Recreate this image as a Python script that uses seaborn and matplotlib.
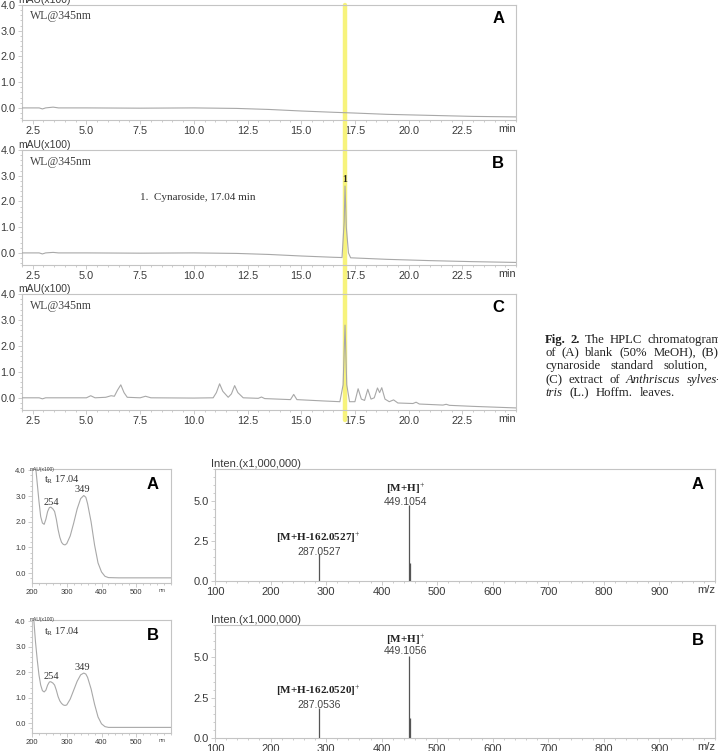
import matplotlib
matplotlib.use("Agg")
import matplotlib.pyplot as plt
import seaborn as sns
from matplotlib.ticker import MultipleLocator

# HPLC chromatograms at 345 nm (time in min, mAU x100)
blank_t = [2.0, 2.8, 2.95, 3.1, 3.45, 3.7, 5.0, 7.5, 10.0, 12.0, 13.5, 15.0, 16.5, 17.5, 19.0, 21.0, 23.0, 25.0]
blank_v = [0.0, 0.0, -0.04, 0.0, 0.03, 0.0, 0.0, -0.01, 0.0, -0.02, -0.06, -0.12, -0.17, -0.2, -0.25, -0.29, -0.33, -0.35]

std_t = [2.0, 2.8, 2.95, 3.1, 3.45, 3.7, 5.0, 7.5, 10.0, 12.0, 13.5, 15.0, 16.5, 16.9, 17.0, 17.04,
         17.1, 17.2, 17.3, 19.0, 21.0, 23.0, 25.0]
std_v = [0.0, 0.0, -0.04, 0.0, 0.02, 0.0, 0.0, -0.01, 0.0, -0.02, -0.06, -0.12, -0.17, -0.18, 1.2, 2.6,
         1.0, 0.0, -0.19, -0.25, -0.3, -0.34, -0.37]

ext_t = [2.0, 2.8, 2.95, 3.1, 4.0, 5.0, 5.2, 5.4, 5.9, 6.15, 6.3, 6.45, 6.6, 6.75, 6.9, 7.5, 7.75, 8.0,
         10.0, 10.9, 11.05, 11.2, 11.35, 11.6, 11.75, 11.9, 12.05, 12.3, 13.0, 13.15, 13.3, 14.5, 14.65,
         14.8, 16.0, 16.8, 16.95, 17.04, 17.12, 17.25, 17.5, 17.65, 17.8, 17.95, 18.1, 18.25, 18.4, 18.55,
         18.65, 18.75, 18.9, 19.1, 19.3, 19.5, 20.2, 20.35, 20.5, 21.6, 21.75, 21.9, 23.0, 25.0]
ext_v = [0.0, 0.0, -0.04, 0.0, 0.0, 0.0, 0.08, 0.0, 0.02, 0.08, 0.06, 0.3, 0.5, 0.2, 0.02, 0.0, 0.06, 0.0,
         -0.01, 0.0, 0.2, 0.54, 0.25, 0.02, 0.15, 0.47, 0.2, 0.0, -0.02, 0.03, -0.03, -0.07, 0.13,
         -0.07, -0.12, -0.15, 0.5, 2.8, 0.5, -0.15, -0.15, 0.35, -0.05, -0.1, 0.33, -0.05, 0.0, 0.38,
         0.2, 0.39, -0.05, -0.15, -0.08, -0.2, -0.22, -0.17, -0.24, -0.28, -0.25, -0.29, -0.33, -0.39]

# UV spectra of the peak at tR 17.04 (nm, mAU x100)
uv_nm = [200, 210, 215, 220, 225, 230, 235, 240, 245, 250, 254, 260, 265, 270, 275, 280, 285, 290, 295,
         300, 310, 320, 330, 340, 349, 355, 360, 370, 380, 390, 400, 410, 420, 450, 600]
uv_a = [5.0, 4.2, 3.5, 2.8, 2.2, 1.95, 1.9, 2.1, 2.4, 2.55, 2.57, 2.5, 2.4, 2.1, 1.7, 1.4, 1.2, 1.12, 1.1,
        1.15, 1.45, 1.95, 2.5, 2.9, 3.02, 2.95, 2.7, 2.0, 1.1, 0.4, 0.05, -0.12, -0.17, -0.18, -0.18]
uv_b = [5.0, 3.2, 2.5, 1.9, 1.5, 1.28, 1.23, 1.3, 1.5, 1.62, 1.63, 1.58, 1.5, 1.3, 1.05, 0.88, 0.78, 0.72, 0.7,
        0.72, 0.95, 1.3, 1.65, 1.9, 1.97, 1.93, 1.8, 1.35, 0.75, 0.25, -0.02, -0.13, -0.16, -0.16, -0.16]

# MS spectra (m/z, intensity x1,000,000)
ms_mz = [287.05, 449.11, 450.11]
ms_a = [1.69, 4.75, 1.13]
ms_b = [1.88, 5.06, 1.25]
ms_lab_a = ["[M+H-162.0527]$^{+}$", "287.0527", "[M+H]$^{+}$", "449.1054"]
ms_lab_b = ["[M+H-162.0520]$^{+}$", "287.0536", "[M+H]$^{+}$", "449.1056"]

# caption words: (word, bold, italic); lines are justified
caption = [
    [("Fig.", 1, 0), ("2.", 1, 0), ("The", 0, 0), ("HPLC", 0, 0), ("chromatograms", 0, 0)],
    [("of", 0, 0), ("(A)", 0, 0), ("blank", 0, 0), ("(50%", 0, 0), ("MeOH),", 0, 0), ("(B)", 0, 0)],
    [("cynaroside", 0, 0), ("standard", 0, 0), ("solution,", 0, 0), ("and", 0, 0)],
    [("(C)", 0, 0), ("extract", 0, 0), ("of", 0, 0), ("Anthriscus", 0, 1), ("sylves-", 0, 1)],
    [("tris", 0, 1), ("(L.)", 0, 0), ("Hoffm.", 0, 0), ("leaves.", 0, 0)],
]
cap_last_start = [647, 702, 717, 687, 640]
cap_y = [340, 353, 366, 380, 393]

sns.set_style("ticks")
plt.rcParams["font.family"] = ["Liberation Sans", "DejaVu Sans"]
plt.rcParams["mathtext.fontset"] = "custom"
plt.rcParams["mathtext.rm"] = "Liberation Serif"
plt.rcParams["mathtext.bf"] = "Liberation Serif:bold"

W, H = 718, 751
fig = plt.figure(figsize=(W / 100, H / 100), dpi=100)
SERIF = "Liberation Serif"
SPINE = "#c4c4c4"
TXT = "#3a3a3a"
CURVE = "#a8a8a8"


def px_axes(l, t, r, b):
    return fig.add_axes([l / W, 1 - b / H, (r - l) / W, (b - t) / H])


def style(ax, fs):
    for s in ax.spines.values():
        s.set_color(SPINE)
        s.set_linewidth(0.8)
    ax.tick_params(which="both", direction="out", colors=SPINE, labelcolor=TXT, labelsize=fs, width=0.6)
    ax.tick_params(which="major", length=3, pad=1.5)
    ax.tick_params(which="minor", length=1.5)
    ax.set_xlabel("")
    ax.set_ylabel("")


# ---- HPLC chromatograms ----
hplc = [(blank_t, blank_v, "A", 5, 120), (std_t, std_v, "B", 150, 265), (ext_t, ext_v, "C", 294, 410)]
for i, (t, v, letter, top, bot) in enumerate(hplc):
    ax = px_axes(22, top, 516, bot)
    sns.lineplot(x=t, y=v, ax=ax, color=CURVE, lw=0.8, estimator=None, zorder=3)
    ax.set_xlim(2.0, 25.0)
    ax.set_ylim(-0.47, 4.0)
    ax.set_xticks([2.5, 5.0, 7.5, 10.0, 12.5, 15.0, 17.5, 20.0, 22.5])
    ax.set_xticklabels(["2.5", "5.0", "7.5", "10.0", "12.5", "15.0", "17.5", "20.0", "22.5"])
    ax.set_yticks([0, 1, 2, 3, 4])
    ax.set_yticklabels(["0.0", "1.0", "2.0", "3.0", "4.0"])
    ax.xaxis.set_minor_locator(MultipleLocator(0.5))
    ax.yaxis.set_minor_locator(MultipleLocator(0.2))
    style(ax, 7.8)
    ax.text(24.6, -0.035, "min", transform=ax.get_xaxis_transform(), ha="center", va="top",
            fontsize=7.8, color=TXT)
    ax.text(-0.008, 1.0, "mAU(x100)", transform=ax.transAxes, ha="left", va="bottom",
            fontsize=7.5, color=TXT)
    ax.text(0.016, 0.9, "WL@345nm", transform=ax.transAxes, ha="left", va="center",
            fontsize=8.5, color="#444444", family=SERIF)
    ax.text(0.964, 0.88, letter, transform=ax.transAxes, ha="center", va="center",
            fontsize=12, fontweight="bold", color="black")
    ext_below = {0: -0.27, 1: -0.26, 2: -0.09}[i]
    ax.axvline(17.06, ymin=ext_below, ymax=1.0, color="#f7f37c", lw=3.2, zorder=1, clip_on=False)
    if letter == "B":
        ax.text(10.2, 2.17, "1.  Cynaroside, 17.04 min", ha="center", va="center",
                fontsize=8, color="#333333", family=SERIF)
        ax.text(17.04, 2.85, "1", ha="center", va="center", fontsize=7,
                fontweight="bold", color="#222222", family=SERIF)

# ---- caption (justified lines, clipped by the figure edge like the source) ----
renderer = fig.canvas.get_renderer()
for words, last_x, y in zip(caption, cap_last_start, cap_y):
    objs = []
    for w, b, it in words:
        objs.append(fig.text(0, 1 - y / H, w, ha="left", va="center", fontsize=9.2, family=SERIF,
                             fontweight="bold" if b else "normal",
                             fontstyle="italic" if it else "normal", color="#222222"))
    widths = [o.get_window_extent(renderer).width for o in objs]
    gap = (last_x - 545 - sum(widths[:-1])) / (len(objs) - 1)
    x = 545
    for o, wd in zip(objs, widths):
        o.set_x(x / W)
        x += wd + gap

# ---- UV spectra ----
uv = [(uv_a, "A", 469, 583, [3.62, 2.76, 3.27]), (uv_b, "B", 620, 733, [3.58, 1.85, 2.19])]
for vals, letter, top, bot, ly in uv:
    ax = px_axes(32, top, 171, bot)
    sns.lineplot(x=uv_nm, y=vals, ax=ax, color=CURVE, lw=0.8, estimator=None)
    ax.set_xlim(200, 600)
    ax.set_ylim(-0.38, 4.05)
    ax.set_xticks([200, 300, 400, 500])
    ax.set_yticks([0, 1, 2, 3, 4])
    ax.set_yticklabels(["0.0", "1.0", "2.0", "3.0", "4.0"])
    ax.xaxis.set_minor_locator(MultipleLocator(20))
    ax.yaxis.set_minor_locator(MultipleLocator(0.2))
    style(ax, 5.5)
    ax.text(575, -0.04, "nm", transform=ax.get_xaxis_transform(), ha="center", va="top",
            fontsize=3.5, color=TXT)
    ax.text(-0.02, 1.0, "mAU(x100)", transform=ax.transAxes, ha="left", va="center",
            fontsize=3.5, color=TXT)
    ax.text(235, ly[0], "t$_\\mathregular{R}$ 17.04", ha="left", va="center", fontsize=7.5,
            color="#333333", family=SERIF)
    ax.text(255, ly[1], "254", ha="center", va="center", fontsize=7.5, color="#333333", family=SERIF)
    ax.text(345, ly[2], "349", ha="center", va="center", fontsize=7.5, color="#333333", family=SERIF)
    ax.text(0.87, 0.865, letter, transform=ax.transAxes, ha="center", va="center",
            fontsize=12, fontweight="bold", color="black")

# ---- MS spectra ----
ms = [(ms_a, ms_lab_a, "A", 469, 581, [2.69, 1.81, 5.75, 4.94]),
      (ms_b, ms_lab_b, "B", 625, 738, [2.94, 2.06, 6.1, 5.4])]
for vals, labs, letter, top, bot, ly in ms:
    ax = px_axes(215, top, 715, bot)
    sns.lineplot(x=[100, 1000], y=[0, 0], ax=ax, color="#888888", lw=0.6)
    ax.vlines(ms_mz, 0, vals, color="#555555", lw=0.9)
    ax.set_xlim(100, 1000)
    ax.set_ylim(0, 7.0)
    ax.set_xticks([100, 200, 300, 400, 500, 600, 700, 800, 900])
    ax.set_yticks([0, 2.5, 5.0])
    ax.set_yticklabels(["0.0", "2.5", "5.0"])
    ax.xaxis.set_minor_locator(MultipleLocator(20))
    ax.yaxis.set_minor_locator(MultipleLocator(0.5))
    style(ax, 8)
    ax.text(985, -0.035, "m/z", transform=ax.get_xaxis_transform(), ha="center", va="top",
            fontsize=8, color=TXT)
    ax.text(-0.008, 1.0, "Inten.(x1,000,000)", transform=ax.transAxes, ha="left", va="bottom",
            fontsize=8, color=TXT)
    ax.text(285.6, ly[0], labs[0], ha="center", va="center", fontsize=8, fontweight="bold",
            family=SERIF, color="#222222")
    ax.text(287, ly[1], labs[1], ha="center", va="center", fontsize=7.5, color="#444444")
    ax.text(442, ly[2], labs[2], ha="center", va="center", fontsize=8, fontweight="bold",
            family=SERIF, color="#222222")
    ax.text(443, ly[3], labs[3], ha="center", va="center", fontsize=7.5, color="#444444")
    ax.text(0.966, 0.86, letter, transform=ax.transAxes, ha="center", va="center",
            fontsize=12, fontweight="bold", color="black")

fig.savefig("out.png", dpi=100, facecolor="white")
